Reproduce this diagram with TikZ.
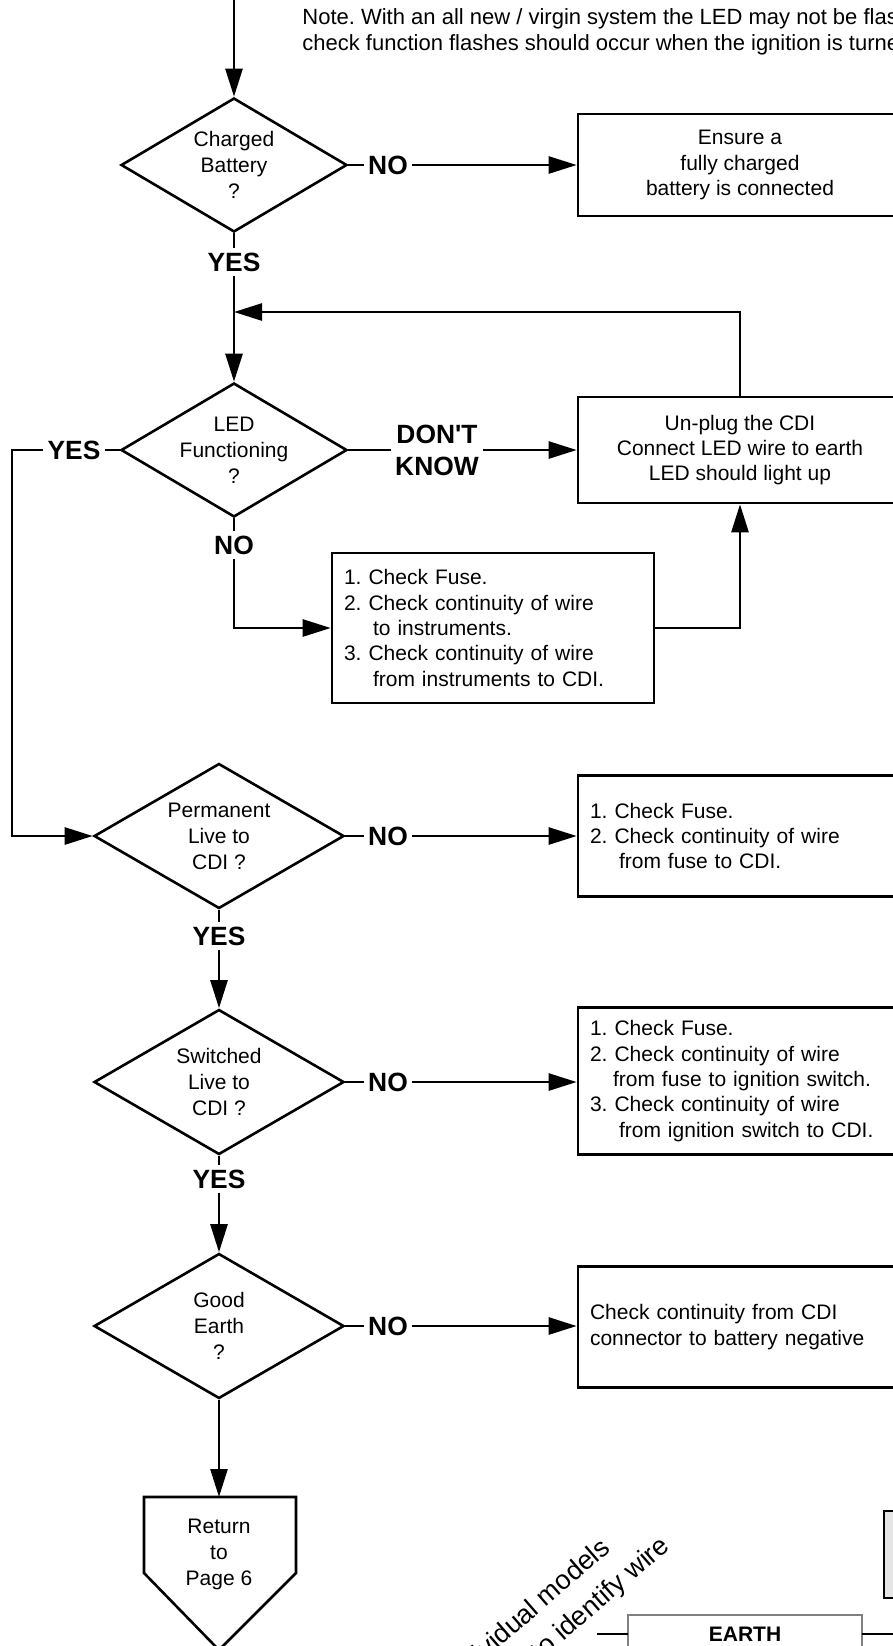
\documentclass[tikz,border=0pt]{standalone}
\usepackage{fontspec}
\setmainfont{Liberation Sans}
\usetikzlibrary{shapes.geometric,arrows.meta}
\frenchspacing

\tikzset{
  line/.style={line width=1.3pt},
  arr/.style={line, -{Triangle[length=14pt,width=8.5pt]}},
  decision/.style={diamond, draw, line width=1.3pt, inner sep=0pt, minimum width=113pt, minimum height=67pt},
  bigdecision/.style={decision, minimum width=125pt, minimum height=72.5pt},
  qtext/.style={align=center, font=\fontsize{10.5}{13}\selectfont},
  action/.style={rectangle, draw, line width=1.3pt, inner xsep=6pt, font=\fontsize{10.5}{12.7}\selectfont},
  answer/.style={font=\fontsize{13.2}{16}\selectfont\bfseries, inner sep=2pt},
  slanted/.style={rotate=41, anchor=base east, inner sep=0pt, font=\fontsize{13.5}{16}\selectfont},
}

\begin{document}
\begin{tikzpicture}[x=0.5pt,y=-0.5pt]
\useasboundingbox (0,0) rectangle (893,1646);
\clip (0,0) rectangle (893,1646);

\node[anchor=west, align=left, inner sep=0pt, font=\fontsize{11}{12.7}\selectfont] (note) at (302,32)
  {Note. With an all new / virgin system the LED may not be flashing\\
   check function flashes should occur when the ignition is turned};

% first check
\coordinate (start) at (234,-5);
\node[decision, label={[qtext]center:{Charged\\Battery\\?}}] (q1) at (234,165) {};
\draw[arr] (start) -- (q1);
\node[answer] (no1) at (388,165) {NO};
\node[action, align=center, minimum width=162pt, minimum height=51pt] (b1) at (740,165)
  {Ensure a\\fully charged\\battery is connected};
\draw[line] (q1.east) -- (no1);
\draw[arr] (no1) -- (b1);
\node[answer] (yes1) at (234,262) {YES};
\draw[line] (q1.south) -- (yes1);

% LED check
\node[decision, label={[qtext]center:{LED\\Functioning\\?}}] (q2) at (234,450) {};
\draw[arr] (yes1) -- (q2);
\node[answer, align=center] (dk) at (437,450) {DON\textquotesingle T\\KNOW};
\node[action, align=center, minimum width=162pt, minimum height=53pt] (b2) at (740,450)
  {Un-plug the CDI\\Connect LED wire to earth\\LED should light up};
\draw[line] (q2.east) -- (dk);
\draw[arr] (dk) -- (b2);
\coordinate (loop) at (234,312);
\draw[arr] (b2.north) |- (loop);

\node[answer] (no2) at (234,545) {NO};
\draw[line] (q2.south) -- (no2);
\node[action, align=left, text width=149pt, minimum height=75pt] (b3) at (493,628)
  {1. Check Fuse.\\
   2. Check continuity of wire\\
   \hspace*{14.5pt}to instruments.\\
   3. Check continuity of wire\\
   \hspace*{14.5pt}from instruments to CDI.};
\draw[arr] (no2) |- (b3);
\draw[arr] (b3) -| (b2);

\node[answer] (yes2) at (74,450) {YES};
\draw[line] (q2.west) -- (yes2);
\coordinate (side) at (12,450);

% live and earth checks
\node[bigdecision, label={[qtext]center:{Permanent\\Live to\\CDI ?}}] (q3) at (219,836) {};
\draw[arr] (yes2) -- (side) |- (q3);
\node[answer] (no3) at (388,836) {NO};
\node[action, align=left, text width=151.5pt, minimum height=60.5pt] (b4) at (741.5,836)
  {1. Check Fuse.\\
   2. Check continuity of wire\\
   \hspace*{14.5pt}from fuse to CDI.};
\draw[line] (q3.east) -- (no3);
\draw[arr] (no3) -- (b4);
\node[answer] (yes3) at (219,936) {YES};
\draw[line] (q3.south) -- (yes3);

\node[bigdecision, label={[qtext]center:{Switched\\Live to\\CDI ?}}] (q4) at (219,1082) {};
\draw[arr] (yes3) -- (q4);
\node[answer] (no4) at (388,1082) {NO};
\node[action, align=left, text width=151.5pt, minimum height=73.5pt] (b5) at (741.5,1081)
  {1. Check Fuse.\\
   2. Check continuity of wire\\
   \hspace*{11.5pt}from fuse to ignition switch.\\
   3. Check continuity of wire\\
   \hspace*{14.5pt}from ignition switch to CDI.};
\draw[line] (q4.east) -- (no4);
\draw[arr] (no4) -- (b5.west |- no4);
\node[answer] (yes4) at (219,1179) {YES};
\draw[line] (q4.south) -- (yes4);

\node[bigdecision, label={[qtext]center:{Good\\Earth\\?}}] (q5) at (219,1326) {};
\draw[arr] (yes4) -- (q5);
\node[answer] (no5) at (388,1326) {NO};
\node[action, align=left, text width=151.5pt, minimum height=60.5pt] (b6) at (741.5,1327)
  {Check continuity from CDI\\connector to battery negative};
\draw[line] (q5.east) -- (no5);
\draw[arr] (no5) -- (b6.west |- no5);

% return
\coordinate (rtop) at (219,1497);
\draw[arr] (q5.south) -- (rtop);
\draw[line] (144,1497) -- (296,1497) -- (296,1573) -- (219,1650) -- (144,1573) -- cycle;
\node[qtext] (ret) at (219,1554) {Return\\to\\Page 6};

% bits of the next part
\node[slanted] (w1) at (612,1550) {individual models};
\node[slanted] (w2) at (671,1548) {to identify wire};
\draw[line, fill=black!10] (884,1511) rectangle (920,1598);
\draw[draw=gray, line width=0.6pt] (628,1615) rectangle (862,1700);
\node[font=\fontsize{10.5}{12}\selectfont\bfseries] (earth) at (745,1634) {EARTH};
\draw[line] (597,1634) -- (628,1634);
\draw[line] (862,1634) -- (900,1634);
\end{tikzpicture}
\end{document}
